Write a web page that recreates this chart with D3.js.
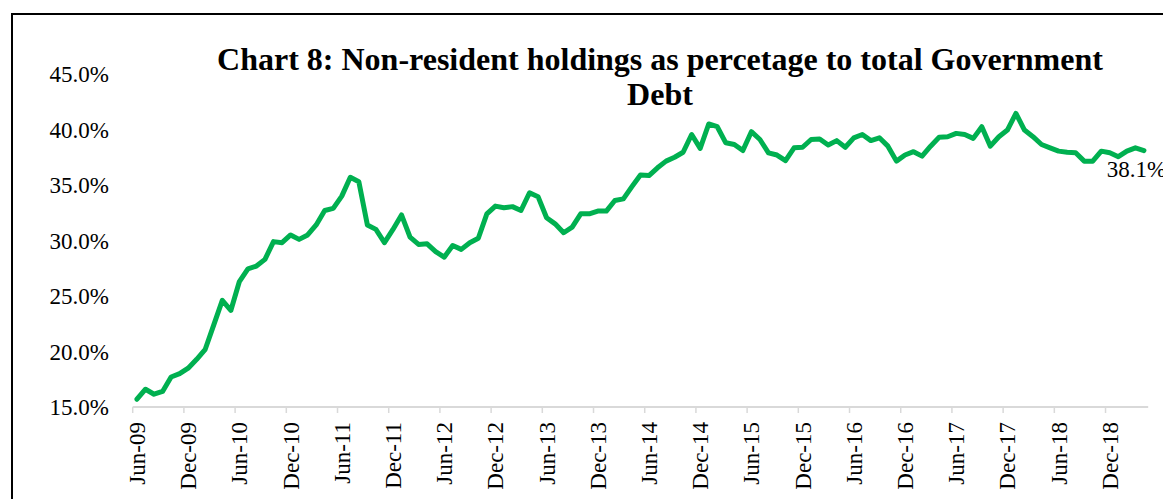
<!doctype html>
<head>
  <script src="https://cdnjs.cloudflare.com/ajax/libs/d3/7.8.5/d3.min.js"></script>
  <style>
    body { margin: 0; background: #fff; }
    svg { display: block; font-family: "Times New Roman", "Liberation Serif", serif; }
  </style>
</head>
<body>
  <svg id="chart" width="1163" height="499"></svg>
  <script type="text/javascript">
    // monthly, Jun-09 .. Apr-19 (% of total govt debt held by non-residents)
    var months = d3.timeMonth.range(new Date(2009, 5, 1), new Date(2019, 4, 1))
    var share = [
      15.7, 16.6, 16.15, 16.4, 17.7, 18.0, 18.5, 19.3, 20.2, 22.4,
      24.6, 23.7, 26.3, 27.45, 27.7, 28.3, 29.9, 29.8, 30.5, 30.1,
      30.5, 31.4, 32.7, 32.9, 34.0, 35.7, 35.3, 31.4, 31.0, 29.8,
      31.0, 32.3, 30.3, 29.65, 29.7, 29.0, 28.5, 29.55, 29.2, 29.8,
      30.2, 32.4, 33.1, 32.95, 33.05, 32.7, 34.3, 33.95, 32.05, 31.5,
      30.7, 31.2, 32.4, 32.4, 32.65, 32.65, 33.6, 33.75, 34.85, 35.9,
      35.85, 36.55, 37.15, 37.5, 37.95, 39.55, 38.3, 40.5, 40.25, 38.8,
      38.65, 38.1, 39.8, 39.1, 37.9, 37.7, 37.2, 38.35, 38.4, 39.1,
      39.15, 38.6, 39.0, 38.4, 39.25, 39.55, 39.0, 39.25, 38.5, 37.15,
      37.7, 38.0, 37.6, 38.5, 39.3, 39.35, 39.65, 39.55, 39.2, 40.25,
      38.5, 39.35, 39.95, 41.45, 39.95, 39.35, 38.65, 38.35, 38.05, 37.95,
      37.9, 37.15, 37.15, 38.05, 37.9, 37.55, 38.05, 38.35, 38.1
    ]
    var yTicks = [15, 20, 25, 30, 35, 40, 45]
    var xTickLabels = ["Jun-09", "Dec-09", "Jun-10", "Dec-10", "Jun-11", "Dec-11", "Jun-12",
      "Dec-12", "Jun-13", "Dec-13", "Jun-14", "Dec-14", "Jun-15", "Dec-15", "Jun-16",
      "Dec-16", "Jun-17", "Dec-17", "Jun-18", "Dec-18"]
    var titleLines = ["Chart 8: Non-resident holdings as percetage to total Government", "Debt"]

    var fmtMonth = d3.timeFormat("%b-%y")
    var data = months.map((m, i) => ({ label: fmtMonth(m), value: share[i] }))

    var svg = d3.select("#chart")

    // outer frame (runs off the right and bottom edges)
    svg.append("rect")
      .attr("x", 12).attr("y", 14)
      .attr("width", 1180).attr("height", 520)
      .style("fill", "none").style("stroke", "#000").style("stroke-width", "2px")

    var x = d3.scaleBand().domain(data.map(d => d.label)).range([132.7, 1148.2]).padding(0)
    var y = d3.scaleLinear().domain([15, 45]).range([407, 74])

    // title
    svg.append("g").selectAll("text")
      .data(titleLines)
      .enter()
      .append("text")
      .attr("x", 660)
      .attr("y", (d, i) => 70 + i * 35)
      .attr("text-anchor", "middle")
      .style("font-size", "32px")
      .style("font-weight", "bold")
      .text(d => d)

    // y axis labels only, no line or gridlines
    svg.append("g").selectAll("text")
      .data(yTicks)
      .enter()
      .append("text")
      .attr("x", 109)
      .attr("y", d => y(d))
      .attr("dy", "0.35em")
      .attr("text-anchor", "end")
      .style("font-size", "23px")
      .text(d => d.toFixed(1) + "%")

    // x axis
    var xAxis = svg.append("g")
    xAxis.append("line")
      .attr("x1", x.range()[0]).attr("x2", x.range()[1])
      .attr("y1", y(15)).attr("y2", y(15))
      .style("stroke", "#d9d9d9").style("stroke-width", "2px")

    xAxis.selectAll("line.tick")
      .data(xTickLabels)
      .enter()
      .append("line")
      .attr("class", "tick")
      .attr("x1", d => x(d)).attr("x2", d => x(d))
      .attr("y1", y(15)).attr("y2", y(15) + 6)
      .style("stroke", "#d9d9d9").style("stroke-width", "1.5px")

    xAxis.selectAll("text")
      .data(xTickLabels)
      .enter()
      .append("text")
      .attr("transform", d => "translate(" + (x(d) + x.bandwidth() / 2) + ",422) rotate(-90)")
      .attr("dy", "0.35em")
      .attr("text-anchor", "end")
      .style("font-size", "23px")
      .text(d => d)

    // series
    var line = d3.line()
      .x(d => x(d.label) + x.bandwidth() / 2)
      .y(d => y(d.value))

    svg.append("path")
      .datum(data)
      .attr("d", line)
      .style("fill", "none")
      .style("stroke", "#00b050")
      .style("stroke-width", "5px")
      .style("stroke-linejoin", "round")
      .style("stroke-linecap", "round")

    // end label
    var last = data[data.length - 1]
    svg.append("text")
      .attr("x", x(last.label) - 33)
      .attr("y", y(last.value) + 26)
      .style("font-size", "23px")
      .text(last.value.toFixed(1) + "%")
  </script>
</body>
</html>
